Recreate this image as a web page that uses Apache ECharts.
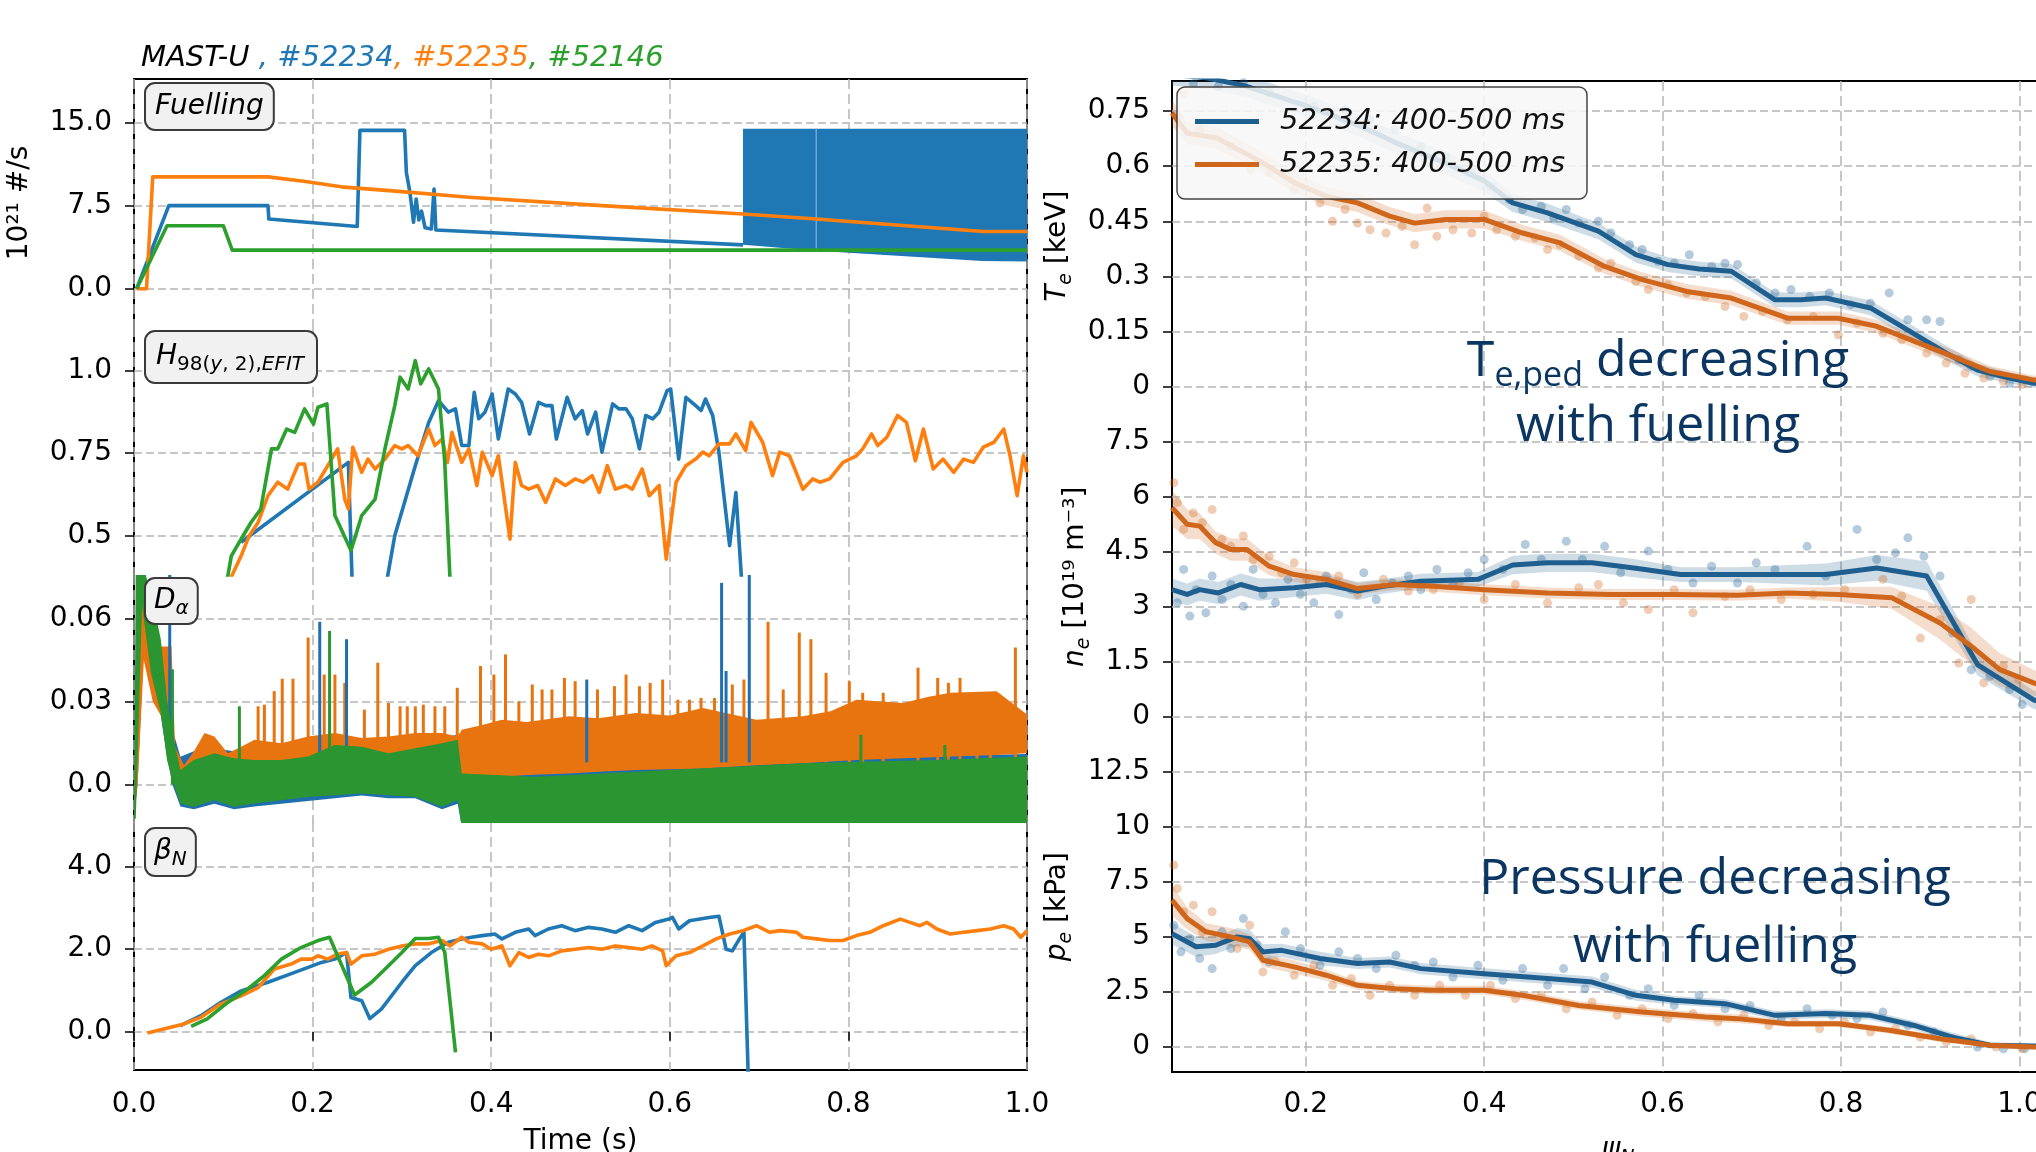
<!DOCTYPE html>
<html>
<head>
    <meta charset="utf-8">
    <title>MAST-U fuelling scan</title>
    <style type="text/css">
        html, body {
            margin: 0;
            background: #fff;
        }
        #chart {
            width: 2036px;
            height: 1152px;
        }
    </style>
</head>
<body>
    <div id="chart"></div>
    <script src="https://cdn.jsdelivr.net/npm/echarts@6.0.0/dist/echarts.min.js"></script>
    <script>
        // ---- tick labels ----
        var timeTicks = [0, 0.2, 0.4, 0.6, 0.8, 1.0];
        var timeTickLabels = ['0.0', '0.2', '0.4', '0.6', '0.8', '1.0'];
        var fuelTicks = [0, 7.5, 15];
        var fuelTickLabels = ['0.0', '7.5', '15.0'];
        var h98Ticks = [0.5, 0.75, 1.0];
        var h98TickLabels = ['0.5', '0.75', '1.0'];
        var daTicks = [0, 0.03, 0.06];
        var daTickLabels = ['0.0', '0.03', '0.06'];
        var betaTicks = [0, 2, 4];
        var betaTickLabels = ['0.0', '2.0', '4.0'];
        var psiTicks = [0.2, 0.4, 0.6, 0.8, 1.0];
        var psiTickLabels = ['0.2', '0.4', '0.6', '0.8', '1.0'];
        var teTicks = [0, 0.15, 0.3, 0.45, 0.6, 0.75];
        var teTickLabels = ['0', '0.15', '0.3', '0.45', '0.6', '0.75'];
        var neTicks = [0, 1.5, 3, 4.5, 6, 7.5];
        var neTickLabels = ['0', '1.5', '3', '4.5', '6', '7.5'];
        var peTicks = [0, 2.5, 5, 7.5, 10, 12.5];
        var peTickLabels = ['0', '2.5', '5', '7.5', '10', '12.5'];

        // ---- fuelling [t (s), 1e21 #/s] ----
        var fuel52234 = [[0.003, 0], [0.039, 7.5], [0.150, 7.5], [0.151, 6.29], [0.250, 5.62], [0.253, 14.3], [0.303, 14.3],
            [0.305, 10.5], [0.309, 8.7], [0.313, 6.0], [0.316, 8.1], [0.319, 6.2], [0.322, 7.0], [0.326, 5.5], [0.333, 5.4],
            [0.336, 9.0], [0.338, 5.3], [0.682, 3.96]];
        // dense valve oscillation after 0.68 s: [t, low, high]
        var fuelBand52234 = [[0.682, 3.96, 14.45], [0.764, 3.42, 14.45], [0.950, 2.50, 14.45], [1.0, 2.45, 14.45]];
        var fuelEdge52234 = [[0.764, 3.42], [0.764, 14.45]];
        var fuel52235 = [[0.003, 0], [0.014, 0], [0.021, 10.1], [0.150, 10.1], [0.190, 9.7], [0.232, 9.2], [0.300, 8.77],
            [0.375, 8.26], [0.524, 7.5], [0.682, 6.74], [0.764, 6.29], [0.951, 5.17], [1.0, 5.17]];
        var fuel52146 = [[0.003, 0], [0.037, 5.69], [0.100, 5.69], [0.110, 3.48], [1.0, 3.48]];

        // ---- H98(y,2) ----
        var h98_52234 = [[0.120, 0.480], [0.240, 0.722], [0.245, 0.30], [0.279, 0.30], [0.292, 0.500], [0.303, 0.601],
            [0.315, 0.712], [0.330, 0.843], [0.341, 0.909], [0.352, 0.874], [0.360, 0.884], [0.367, 0.773], [0.375, 0.773],
            [0.381, 0.934], [0.386, 0.854], [0.393, 0.874], [0.401, 0.929], [0.408, 0.793], [0.419, 0.944], [0.427, 0.929],
            [0.434, 0.904], [0.443, 0.808], [0.453, 0.904], [0.461, 0.894], [0.468, 0.894], [0.473, 0.793], [0.485, 0.919],
            [0.494, 0.854], [0.502, 0.879], [0.508, 0.808], [0.517, 0.874], [0.524, 0.753], [0.536, 0.899], [0.543, 0.884],
            [0.551, 0.884], [0.558, 0.854], [0.566, 0.763], [0.573, 0.864], [0.581, 0.854], [0.588, 0.874], [0.597, 0.939],
            [0.601, 0.944], [0.610, 0.732], [0.618, 0.919], [0.629, 0.894], [0.635, 0.879], [0.640, 0.914], [0.648, 0.864],
            [0.655, 0.753], [0.667, 0.470], [0.674, 0.631], [0.682, 0.30]];
        var h98_52235 = [[0.096, 0.30], [0.120, 0.439], [0.129, 0.500], [0.139, 0.540], [0.150, 0.621], [0.161, 0.662],
            [0.172, 0.641], [0.184, 0.717], [0.191, 0.717], [0.196, 0.641], [0.206, 0.662], [0.217, 0.712], [0.228, 0.763],
            [0.236, 0.611], [0.240, 0.581], [0.245, 0.768], [0.255, 0.692], [0.262, 0.732], [0.270, 0.702], [0.281, 0.732],
            [0.292, 0.773], [0.300, 0.763], [0.307, 0.773], [0.318, 0.742], [0.330, 0.823], [0.337, 0.773], [0.345, 0.793],
            [0.351, 0.722], [0.356, 0.813], [0.367, 0.722], [0.375, 0.763], [0.384, 0.652], [0.390, 0.753], [0.401, 0.682],
            [0.408, 0.742], [0.421, 0.490], [0.427, 0.722], [0.434, 0.652], [0.442, 0.641], [0.452, 0.652], [0.461, 0.601],
            [0.472, 0.672], [0.483, 0.652], [0.494, 0.672], [0.503, 0.662], [0.513, 0.682], [0.521, 0.631], [0.530, 0.712],
            [0.539, 0.641], [0.551, 0.652], [0.558, 0.641], [0.569, 0.702], [0.577, 0.621], [0.588, 0.652], [0.596, 0.429],
            [0.607, 0.662], [0.618, 0.712], [0.629, 0.732], [0.637, 0.753], [0.644, 0.742], [0.655, 0.778], [0.667, 0.778],
            [0.674, 0.808], [0.685, 0.758], [0.691, 0.843], [0.704, 0.783], [0.715, 0.682], [0.723, 0.753], [0.734, 0.742],
            [0.749, 0.641], [0.760, 0.672], [0.768, 0.662], [0.779, 0.672], [0.794, 0.722], [0.809, 0.742], [0.816, 0.763],
            [0.826, 0.808], [0.833, 0.773], [0.843, 0.798], [0.855, 0.864], [0.865, 0.843], [0.875, 0.727], [0.884, 0.823],
            [0.895, 0.702], [0.906, 0.732], [0.918, 0.692], [0.929, 0.732], [0.940, 0.722], [0.951, 0.768], [0.963, 0.783],
            [0.974, 0.823], [0.981, 0.742], [0.989, 0.621], [0.996, 0.742], [1.0, 0.692]];
        var h98_52146 = [[0.100, 0.30], [0.109, 0.439], [0.120, 0.490], [0.131, 0.540], [0.142, 0.581], [0.148, 0.672],
            [0.154, 0.763], [0.161, 0.763], [0.171, 0.823], [0.180, 0.813], [0.191, 0.884], [0.201, 0.838], [0.206, 0.889],
            [0.216, 0.899], [0.225, 0.561], [0.243, 0.455], [0.255, 0.561], [0.270, 0.611], [0.281, 0.763], [0.292, 0.894],
            [0.298, 0.980], [0.307, 0.944], [0.315, 1.030], [0.321, 0.960], [0.330, 1.005], [0.341, 0.944], [0.348, 0.722],
            [0.355, 0.30]];

        // ---- D-alpha envelopes [t, low, high] and spikes [t, peak] ----
        var da52234Band = [[0.0, -0.0124, -0.0124], [0.004, 0.0, 0.08], [0.011, 0.05, 0.08], [0.021, 0.035, 0.06],
            [0.030, 0.025, 0.050], [0.037, 0.010, 0.035], [0.043, 0.0, 0.020], [0.052, -0.008, 0.010], [0.067, -0.009, 0.012],
            [0.090, -0.007, 0.013], [0.112, -0.009, 0.012], [0.135, -0.008, 0.012], [0.165, -0.007, 0.013], [0.195, -0.006, 0.015],
            [0.225, -0.005, 0.016], [0.255, -0.004, 0.016], [0.285, -0.005, 0.015], [0.315, -0.005, 0.016], [0.345, -0.009, 0.017],
            [0.3625, -0.007, 0.018], [0.367, -0.0152, 0.004], [0.412, -0.0155, 0.005], [0.487, -0.0155, 0.006],
            [0.562, -0.0155, 0.007], [0.637, -0.0155, 0.008], [0.749, -0.0155, 0.009], [0.861, -0.0155, 0.010], [1.0, -0.0155, 0.011]];
        var da52235Band = [[0.0, -0.0124, -0.0124], [0.004, 0.0, 0.08], [0.011, 0.045, 0.072], [0.021, 0.030, 0.0489],
            [0.030, 0.025, 0.050], [0.037, 0.020, 0.050], [0.042, 0.010, 0.050], [0.046, 0.002, 0.0137], [0.056, 0.0, 0.0070],
            [0.067, 0.0, 0.0119], [0.079, 0.0, 0.0186], [0.090, 0.0, 0.0174], [0.105, 0.0, 0.0113], [0.120, 0.0, 0.0137],
            [0.135, 0.0, 0.0162], [0.165, 0.0, 0.0149], [0.195, 0.0, 0.0174], [0.225, 0.0, 0.0186], [0.255, 0.0, 0.0168],
            [0.285, 0.0, 0.0174], [0.315, 0.0, 0.0186], [0.345, 0.0, 0.0186], [0.3625, 0.0, 0.0174], [0.367, 0.0016, 0.0198],
            [0.390, 0.0022, 0.0215], [0.412, 0.0028, 0.0234], [0.440, 0.0034, 0.0226], [0.487, 0.0040, 0.0247],
            [0.520, 0.0046, 0.0240], [0.562, 0.0052, 0.0259], [0.600, 0.0055, 0.0250], [0.637, 0.0058, 0.0277],
            [0.697, 0.0070, 0.0234], [0.749, 0.0077, 0.0247], [0.780, 0.0083, 0.0265], [0.809, 0.0089, 0.0307],
            [0.861, 0.0095, 0.0295], [0.890, 0.0098, 0.0318], [0.914, 0.0101, 0.0332], [0.966, 0.0107, 0.0338],
            [1.0, 0.0113, 0.0253]];
        var da52146Band = [[0.0, -0.0124, -0.0124], [0.002, -0.0124, 0.08], [0.009, 0.0647, 0.08], [0.019, 0.0404, 0.0696],
            [0.030, 0.0259, 0.0526], [0.037, 0.0089, 0.0307], [0.043, 0.0016, 0.0186], [0.052, -0.0069, 0.0052],
            [0.067, -0.0081, 0.0089], [0.090, -0.0057, 0.0113], [0.112, -0.0081, 0.0095], [0.135, -0.0069, 0.0089],
            [0.165, -0.0057, 0.0089], [0.195, -0.0045, 0.0101], [0.225, -0.0039, 0.0143], [0.255, -0.0033, 0.0137],
            [0.285, -0.0039, 0.0113], [0.315, -0.0045, 0.0131], [0.345, -0.0081, 0.0149], [0.3625, -0.0057, 0.0162],
            [0.367, -0.0152, 0.0040], [0.449, -0.0152, 0.0028], [0.524, -0.0152, 0.0040], [0.599, -0.0152, 0.0052],
            [0.674, -0.0152, 0.0064], [0.749, -0.0152, 0.0077], [0.824, -0.0152, 0.0083], [0.899, -0.0152, 0.0089],
            [1.0, -0.0152, 0.0101]];
        var da52234Spikes = [[0.040, 0.08], [0.208, 0.0589], [0.238, 0.0526], [0.507, 0.0380], [0.658, 0.073],
            [0.663, 0.0411], [0.689, 0.08]];
        var da52235Spikes = [[0.139, 0.0283], [0.146, 0.0289], [0.157, 0.0338], [0.166, 0.0383], [0.178, 0.0383],
            [0.195, 0.0532], [0.213, 0.0398], [0.225, 0.0398], [0.236, 0.0368], [0.258, 0.0271], [0.273, 0.0441],
            [0.285, 0.0295], [0.298, 0.0283], [0.306, 0.0283], [0.315, 0.0283], [0.324, 0.0289], [0.337, 0.0283],
            [0.348, 0.0283], [0.362, 0.0350], [0.388, 0.0429], [0.403, 0.0398], [0.416, 0.0471], [0.431, 0.0301],
            [0.446, 0.0362], [0.457, 0.0344], [0.468, 0.0344], [0.482, 0.0386], [0.494, 0.0374], [0.519, 0.0344],
            [0.538, 0.0356], [0.551, 0.0398], [0.566, 0.0356], [0.578, 0.0368], [0.592, 0.0380], [0.609, 0.0307],
            [0.622, 0.0307], [0.635, 0.0313], [0.650, 0.0313], [0.670, 0.0362], [0.683, 0.0380], [0.710, 0.0589],
            [0.727, 0.0344], [0.745, 0.0550], [0.758, 0.0526], [0.775, 0.0404], [0.801, 0.0374], [0.816, 0.0332],
            [0.839, 0.0332], [0.878, 0.0423], [0.900, 0.0386], [0.912, 0.0368], [0.925, 0.0386], [0.944, 0.0332],
            [0.959, 0.0320], [0.987, 0.0496]];
        var da52146Spikes = [[0.043, 0.0417], [0.118, 0.0283], [0.219, 0.0556], [0.814, 0.0180], [0.908, 0.0143]];
        var daSpikeBase = 0.008;

        // ---- beta_N ----
        var beta52234 = [[0.052, 0.15], [0.075, 0.39], [0.097, 0.71], [0.120, 0.99], [0.150, 1.20], [0.180, 1.44],
            [0.210, 1.68], [0.225, 1.76], [0.238, 1.92], [0.243, 0.83], [0.255, 0.75], [0.264, 0.32], [0.277, 0.55],
            [0.300, 1.20], [0.315, 1.60], [0.333, 1.92], [0.352, 2.17], [0.367, 2.25], [0.378, 2.29], [0.390, 2.33],
            [0.404, 2.37], [0.412, 2.25], [0.427, 2.41], [0.442, 2.49], [0.449, 2.33], [0.464, 2.49], [0.479, 2.57],
            [0.494, 2.45], [0.509, 2.53], [0.524, 2.49], [0.539, 2.41], [0.554, 2.57], [0.569, 2.45], [0.584, 2.65],
            [0.599, 2.73], [0.603, 2.77], [0.610, 2.49], [0.622, 2.69], [0.644, 2.77], [0.655, 2.80], [0.663, 2.00],
            [0.670, 1.96], [0.678, 2.25], [0.683, 2.41], [0.688, -1.2]];
        var beta52235 = [[0.015, -0.03], [0.056, 0.19], [0.075, 0.35], [0.097, 0.67], [0.120, 0.87], [0.139, 1.07],
            [0.157, 1.52], [0.176, 1.64], [0.187, 1.76], [0.199, 1.76], [0.206, 1.84], [0.217, 1.76], [0.228, 1.88],
            [0.238, 1.92], [0.243, 1.64], [0.255, 1.84], [0.270, 1.88], [0.285, 2.00], [0.300, 2.08], [0.315, 2.13],
            [0.330, 2.13], [0.345, 2.21], [0.354, 2.08], [0.367, 2.29], [0.375, 2.17], [0.390, 2.13], [0.400, 2.00],
            [0.412, 2.08], [0.421, 1.60], [0.431, 1.92], [0.442, 1.80], [0.453, 1.88], [0.464, 1.84], [0.479, 1.96],
            [0.494, 2.00], [0.509, 2.04], [0.524, 2.00], [0.539, 2.08], [0.554, 2.04], [0.569, 2.00], [0.580, 2.08],
            [0.592, 1.96], [0.596, 1.60], [0.607, 1.84], [0.622, 1.92], [0.637, 2.08], [0.652, 2.25], [0.667, 2.37],
            [0.682, 2.45], [0.697, 2.57], [0.712, 2.41], [0.723, 2.45], [0.742, 2.41], [0.749, 2.29], [0.764, 2.25],
            [0.779, 2.21], [0.794, 2.21], [0.809, 2.33], [0.824, 2.41], [0.839, 2.57], [0.858, 2.73], [0.869, 2.65],
            [0.880, 2.57], [0.888, 2.65], [0.899, 2.49], [0.914, 2.37], [0.929, 2.41], [0.944, 2.45], [0.959, 2.49],
            [0.974, 2.57], [0.985, 2.49], [0.993, 2.29], [1.0, 2.45]];
        var beta52146 = [[0.064, 0.13], [0.082, 0.31], [0.105, 0.71], [0.127, 1.03], [0.146, 1.36], [0.165, 1.76],
            [0.187, 2.04], [0.206, 2.21], [0.219, 2.29], [0.247, 0.89], [0.266, 1.20], [0.285, 1.60], [0.300, 1.92],
            [0.315, 2.26], [0.330, 2.26], [0.341, 2.29], [0.348, 1.92], [0.360, -0.50]];

        // ---- profiles vs psi_N, 400-500 ms ----
        var teFit52234 = [[0.05, 0.85], [0.09, 0.84], [0.13, 0.82], [0.20, 0.765], [0.26, 0.71], [0.30, 0.665], [0.36, 0.605],
            [0.40, 0.56], [0.432, 0.50], [0.471, 0.473], [0.528, 0.423], [0.570, 0.359], [0.606, 0.332], [0.641, 0.320],
            [0.677, 0.314], [0.726, 0.236], [0.755, 0.236], [0.783, 0.241], [0.833, 0.214], [0.868, 0.164], [0.918, 0.091],
            [0.953, 0.045], [0.989, 0.023], [1.016, 0.009], [1.05, 0.004]];
        var teErr52234 = [0.03, 0.03, 0.03, 0.03, 0.03, 0.03, 0.03, 0.03, 0.025, 0.025, 0.022, 0.022, 0.02, 0.02, 0.02,
            0.02, 0.02, 0.02, 0.02, 0.02, 0.02, 0.018, 0.015, 0.012, 0.01];
        var teFit52235 = [[0.05, 0.745], [0.067, 0.69], [0.10, 0.677], [0.152, 0.609], [0.187, 0.555], [0.223, 0.518],
            [0.258, 0.50], [0.294, 0.464], [0.322, 0.445], [0.357, 0.455], [0.40, 0.455], [0.443, 0.418], [0.485, 0.391],
            [0.535, 0.327], [0.577, 0.291], [0.627, 0.259], [0.677, 0.241], [0.74, 0.186], [0.797, 0.186], [0.84, 0.164],
            [0.925, 0.082], [0.967, 0.041], [1.016, 0.018], [1.05, 0.012]];
        var teErr52235 = [0.035, 0.03, 0.03, 0.028, 0.028, 0.025, 0.025, 0.025, 0.025, 0.025, 0.025, 0.022, 0.022, 0.02,
            0.02, 0.02, 0.02, 0.018, 0.018, 0.018, 0.018, 0.015, 0.012, 0.01];
        var tePts52234 = [[0.074, 0.825], [0.102, 0.818], [0.130, 0.827], [0.159, 0.80], [0.209, 0.764], [0.244, 0.755],
            [0.272, 0.727], [0.30, 0.70], [0.329, 0.655], [0.357, 0.627], [0.386, 0.582], [0.407, 0.545], [0.428, 0.509],
            [0.443, 0.482], [0.464, 0.491], [0.478, 0.459], [0.492, 0.482], [0.506, 0.445], [0.528, 0.450], [0.542, 0.418],
            [0.563, 0.386], [0.577, 0.373], [0.595, 0.341], [0.613, 0.336], [0.630, 0.359], [0.655, 0.327], [0.670, 0.336],
            [0.684, 0.332], [0.705, 0.282], [0.726, 0.255], [0.744, 0.264], [0.765, 0.245], [0.787, 0.255], [0.811, 0.223],
            [0.833, 0.227], [0.854, 0.255], [0.875, 0.182], [0.896, 0.182], [0.911, 0.177], [0.932, 0.073], [0.946, 0.055],
            [0.967, 0.027], [0.989, 0.009], [1.006, 0.018]];
        var tePts52235 = [[0.056, 0.736], [0.063, 0.795], [0.081, 0.70], [0.116, 0.655], [0.138, 0.591], [0.159, 0.582],
            [0.187, 0.536], [0.216, 0.50], [0.230, 0.45], [0.244, 0.482], [0.258, 0.445], [0.272, 0.427], [0.290, 0.418],
            [0.308, 0.436], [0.322, 0.386], [0.336, 0.486], [0.347, 0.409], [0.365, 0.427], [0.386, 0.418], [0.40, 0.464],
            [0.414, 0.427], [0.435, 0.409], [0.457, 0.405], [0.471, 0.373], [0.485, 0.386], [0.506, 0.355], [0.528, 0.323],
            [0.542, 0.336], [0.570, 0.286], [0.584, 0.264], [0.606, 0.277], [0.627, 0.255], [0.648, 0.245], [0.670, 0.218],
            [0.691, 0.191], [0.712, 0.205], [0.740, 0.182], [0.769, 0.191], [0.797, 0.141], [0.818, 0.173], [0.847, 0.145],
            [0.868, 0.127], [0.896, 0.091], [0.918, 0.064], [0.939, 0.036], [0.960, 0.023], [0.982, 0.014], [1.003, 0.005]];

        var neFit52234 = [[0.05, 3.47], [0.067, 3.34], [0.081, 3.47], [0.102, 3.38], [0.127, 3.61], [0.148, 3.47],
            [0.187, 3.52], [0.223, 3.61], [0.258, 3.43], [0.287, 3.56], [0.329, 3.70], [0.393, 3.75], [0.432, 4.14],
            [0.471, 4.2], [0.521, 4.2], [0.57, 4.05], [0.62, 3.88], [0.684, 3.88], [0.783, 3.88], [0.84, 4.06], [0.896, 3.84],
            [0.953, 1.43], [1.016, 0.47], [1.05, 0.2]];
        var neErr52234 = [0.3, 0.3, 0.3, 0.3, 0.3, 0.3, 0.25, 0.25, 0.25, 0.2, 0.2, 0.2, 0.25, 0.25, 0.25, 0.25, 0.2, 0.2,
            0.3, 0.35, 0.4, 0.3, 0.25, 0.2];
        var neFit52235 = [[0.05, 5.7], [0.067, 5.25], [0.081, 5.2], [0.099, 4.75], [0.116, 4.56], [0.134, 4.56],
            [0.159, 4.11], [0.187, 3.88], [0.223, 3.75], [0.258, 3.5], [0.30, 3.61], [0.343, 3.56], [0.40, 3.47],
            [0.471, 3.38], [0.542, 3.34], [0.613, 3.34], [0.684, 3.32], [0.74, 3.38], [0.797, 3.34], [0.857, 3.25],
            [0.911, 2.56], [0.946, 1.93], [0.978, 1.29], [1.016, 0.93], [1.05, 0.7]];
        var neErr52235 = [0.5, 0.4, 0.35, 0.3, 0.3, 0.3, 0.25, 0.2, 0.2, 0.15, 0.15, 0.15, 0.15, 0.15, 0.15, 0.15, 0.15,
            0.15, 0.2, 0.3, 0.45, 0.5, 0.45, 0.35, 0.3];
        var nePts52234 = [[0.056, 3.11], [0.063, 4.02], [0.070, 2.75], [0.077, 3.47], [0.088, 2.84], [0.095, 3.84],
            [0.106, 3.20], [0.116, 3.61], [0.130, 3.02], [0.141, 4.02], [0.152, 3.34], [0.166, 3.11], [0.180, 3.75],
            [0.194, 3.34], [0.209, 3.11], [0.223, 3.84], [0.237, 2.79], [0.251, 3.47], [0.265, 3.93], [0.279, 3.20],
            [0.297, 3.65], [0.315, 3.84], [0.329, 3.47], [0.347, 4.02], [0.365, 3.61], [0.382, 3.93], [0.40, 4.29],
            [0.421, 4.02], [0.446, 4.70], [0.464, 4.29], [0.492, 4.79], [0.510, 4.29], [0.535, 4.65], [0.553, 3.93],
            [0.584, 4.52], [0.606, 4.02], [0.634, 3.65], [0.655, 4.11], [0.684, 3.65], [0.705, 4.20], [0.726, 4.02],
            [0.762, 4.65], [0.783, 3.84], [0.818, 5.11], [0.840, 4.29], [0.861, 4.47], [0.875, 4.88], [0.893, 4.38],
            [0.911, 3.84], [0.925, 2.29], [0.946, 1.29], [0.967, 1.11], [0.989, 0.75], [1.003, 0.34]];
        var nePts52235 = [[0.052, 6.38], [0.056, 5.84], [0.063, 5.11], [0.074, 5.56], [0.084, 5.29], [0.095, 5.65],
            [0.106, 4.84], [0.116, 4.65], [0.130, 4.93], [0.141, 4.29], [0.159, 4.38], [0.173, 3.93], [0.187, 4.20],
            [0.201, 3.75], [0.216, 3.65], [0.237, 3.84], [0.258, 3.34], [0.287, 3.75], [0.315, 3.43], [0.343, 3.47],
            [0.372, 3.65], [0.40, 3.20], [0.435, 3.61], [0.471, 3.11], [0.506, 3.52], [0.528, 3.61], [0.556, 3.11],
            [0.584, 2.93], [0.613, 3.47], [0.634, 2.84], [0.670, 3.29], [0.698, 3.47], [0.733, 3.20], [0.769, 3.34],
            [0.804, 3.47], [0.847, 3.75], [0.868, 3.29], [0.889, 2.15], [0.911, 2.65], [0.932, 1.47], [0.946, 3.20],
            [0.960, 0.93], [0.982, 1.38], [0.999, 1.02]];

        var peFit52234 = [[0.05, 5.15], [0.077, 4.55], [0.099, 4.62], [0.123, 5.0], [0.137, 4.92], [0.152, 4.32],
            [0.173, 4.39], [0.216, 4.02], [0.258, 3.79], [0.294, 3.86], [0.329, 3.56], [0.40, 3.33], [0.471, 3.11],
            [0.521, 2.95], [0.57, 2.35], [0.613, 2.12], [0.67, 1.97], [0.726, 1.44], [0.783, 1.52], [0.833, 1.44],
            [0.882, 0.98], [0.925, 0.45], [0.967, 0.08], [1.016, 0.05], [1.05, 0.04]];
        var peErr52234 = [0.5, 0.45, 0.4, 0.4, 0.4, 0.35, 0.3, 0.3, 0.25, 0.25, 0.25, 0.25, 0.25, 0.25, 0.25, 0.2, 0.2,
            0.2, 0.2, 0.2, 0.2, 0.2, 0.15, 0.1, 0.1];
        var peFit52235 = [[0.05, 6.67], [0.067, 5.83], [0.088, 5.23], [0.116, 5.0], [0.137, 4.77], [0.152, 3.94],
            [0.187, 3.64], [0.223, 3.26], [0.258, 2.80], [0.30, 2.65], [0.343, 2.58], [0.40, 2.58], [0.443, 2.35],
            [0.506, 1.89], [0.577, 1.59], [0.648, 1.36], [0.684, 1.29], [0.74, 1.06], [0.797, 1.06], [0.854, 0.76],
            [0.911, 0.38], [0.967, 0.08], [1.016, 0.0], [1.05, 0.0]];
        var peErr52235 = [0.7, 0.5, 0.4, 0.4, 0.35, 0.3, 0.3, 0.25, 0.2, 0.2, 0.2, 0.2, 0.2, 0.2, 0.2, 0.2, 0.2, 0.15,
            0.15, 0.15, 0.15, 0.1, 0.1, 0.1];
        var pePts52234 = [[0.052, 5.53], [0.060, 4.32], [0.070, 4.92], [0.081, 4.02], [0.095, 3.56], [0.106, 5.23],
            [0.116, 4.47], [0.130, 5.83], [0.145, 4.62], [0.159, 3.86], [0.177, 5.23], [0.194, 4.47], [0.216, 3.71],
            [0.237, 4.32], [0.258, 4.02], [0.279, 3.56], [0.301, 4.17], [0.322, 3.71], [0.343, 3.86], [0.365, 3.18],
            [0.393, 3.71], [0.421, 3.03], [0.443, 3.56], [0.471, 2.80], [0.489, 3.56], [0.513, 2.65], [0.535, 3.18],
            [0.563, 2.35], [0.584, 2.65], [0.613, 1.89], [0.641, 2.35], [0.670, 1.74], [0.698, 1.89], [0.733, 1.29],
            [0.762, 1.74], [0.790, 1.44], [0.818, 1.29], [0.847, 1.59], [0.875, 0.98], [0.904, 0.68], [0.925, 0.38],
            [0.953, 0.0], [0.982, -0.08], [1.006, -0.08]];
        var pePts52235 = [[0.052, 8.26], [0.056, 7.20], [0.063, 6.14], [0.074, 6.44], [0.084, 5.23], [0.095, 6.14],
            [0.109, 4.92], [0.123, 4.47], [0.137, 5.53], [0.152, 3.41], [0.166, 3.86], [0.187, 3.26], [0.209, 3.71],
            [0.230, 2.80], [0.251, 3.11], [0.272, 2.35], [0.294, 2.80], [0.322, 2.35], [0.350, 2.80], [0.379, 2.35],
            [0.407, 2.80], [0.435, 2.20], [0.464, 2.35], [0.492, 1.74], [0.521, 2.05], [0.549, 1.44], [0.577, 1.74],
            [0.606, 1.29], [0.634, 1.52], [0.662, 1.14], [0.691, 1.44], [0.719, 0.98], [0.748, 1.14], [0.776, 0.83],
            [0.804, 1.14], [0.833, 0.68], [0.861, 0.83], [0.889, 0.45], [0.918, 0.23], [0.946, 0.38], [0.974, 0.0],
            [1.003, -0.08]];

        var shot52234 = '52234: 400-500 ms';
        var shot52235 = '52235: 400-500 ms';

        // ---- styling ----
        var FONT = 'DejaVu Sans';
        var BLUE = '#1f77b4', ORANGE = '#ff7f0e', GREEN = '#2ca02c';
        var DA_BLUE = '#1f6fae', DA_ORANGE = '#e8740f', DA_GREEN = '#2a9531';
        var P_BLUE = '#1f5f8f', P_ORANGE = '#cf661b';
        var NAVY = '#0b3661';
        var GRIDLINE = {color: '#b5b5b5', width: 1.5, type: [8, 4]};
        var VGRIDLINE = {color: '#b5b5b5', width: 1.5, type: [10, 5]};
        var LW = 3.6;

        var leftTops = [79, 327, 575, 822], leftH = 248;
        var rightTops = [81, 411.5, 741.5], rightH = 330.5;

        function tickFormatter(ticks, labels) {
            return function (v) {
                for (var i = 0; i < ticks.length; i++) {
                    if (Math.abs(ticks[i] - v) < 1e-9) {
                        return labels[i];
                    }
                }
                return '';
            };
        }

        function withErr(fit, err) {
            var rows = [];
            for (var i = 0; i < fit.length && i < err.length; i++) {
                rows.push([fit[i][0], fit[i][1] - err[i], fit[i][1] + err[i]]);
            }
            return rows;
        }

        function clipRect(params) {
            var cs = params.coordSys;
            return {type: 'rect', shape: {x: cs.x, y: cs.y, width: cs.width, height: cs.height}};
        }

        function line(idx, data, color, width, z, name) {
            return {
                type: 'line', name: name, xAxisIndex: idx, yAxisIndex: idx, data: data,
                symbol: 'none', showSymbol: false, clip: true, silent: true, z: z,
                lineStyle: {color: color, width: width, join: 'round'}, itemStyle: {color: color}
            };
        }

        function band(idx, rows, color, opacity, z) {
            return {
                type: 'custom', xAxisIndex: idx, yAxisIndex: idx, data: rows, silent: true, z: z,
                encode: {x: 0, y: [1, 2]},
                renderItem: function (params, api) {
                    if (params.dataIndex !== 0) {
                        return null;
                    }
                    var pts = [];
                    rows.forEach(function (r) { pts.push(api.coord([r[0], r[2]])); });
                    for (var i = rows.length - 1; i >= 0; i--) {
                        pts.push(api.coord([rows[i][0], rows[i][1]]));
                    }
                    return {
                        type: 'polygon', shape: {points: pts},
                        style: {fill: color, opacity: opacity},
                        clipPath: clipRect(params)
                    };
                }
            };
        }

        function spikes(idx, pts, base, color, width, z) {
            return {
                type: 'custom', xAxisIndex: idx, yAxisIndex: idx, data: pts, silent: true, z: z,
                encode: {x: 0, y: 1},
                renderItem: function (params, api) {
                    var p0 = api.coord([api.value(0), base]);
                    var p1 = api.coord([api.value(0), api.value(1)]);
                    return {
                        type: 'line', shape: {x1: p0[0], y1: p0[1], x2: p1[0], y2: p1[1]},
                        style: {stroke: color, lineWidth: width},
                        clipPath: clipRect(params)
                    };
                }
            };
        }

        function dots(idx, pts, color, z) {
            return {
                type: 'scatter', xAxisIndex: idx, yAxisIndex: idx, data: pts, symbolSize: 9, clip: true,
                silent: true, z: z, itemStyle: {color: color, opacity: 0.33}
            };
        }

        function yAxisFor(idx, min, max, ticks, labels, extra) {
            var ax = {
                type: 'value', gridIndex: idx, min: min, max: max,
                axisLine: {show: false},
                axisTick: {show: true, customValues: ticks, length: 9, lineStyle: {color: '#000', width: 1.5}},
                axisLabel: {customValues: ticks, formatter: tickFormatter(ticks, labels), color: '#000',
                    fontSize: 28, fontFamily: FONT, margin: 22},
                splitLine: {show: true, lineStyle: GRIDLINE},
                nameMoveOverlap: false
            };
            return Object.assign(ax, extra || {});
        }

        function xAxisFor(idx, min, max, ticks, labels, bottom, extra) {
            var ax = {
                type: 'value', gridIndex: idx, min: min, max: max,
                axisLine: {show: false},
                axisTick: {show: bottom, customValues: ticks, length: 9, lineStyle: {color: '#000', width: 1.5}},
                axisLabel: {show: bottom, customValues: ticks, formatter: tickFormatter(ticks, labels), color: '#000',
                    fontSize: 28, fontFamily: FONT, margin: 21},
                splitLine: {show: true, lineStyle: VGRIDLINE},
                nameMoveOverlap: false
            };
            return Object.assign(ax, extra || {});
        }

        var nameRich = {
            i: {fontStyle: 'italic', fontSize: 28, fontFamily: FONT, lineHeight: 36, color: '#000'},
            s: {fontStyle: 'italic', fontSize: 19, fontFamily: FONT, lineHeight: 22, verticalAlign: 'bottom', color: '#000'},
            r: {fontSize: 28, fontFamily: FONT, lineHeight: 36, color: '#000'}
        };

        var grids = [];
        leftTops.forEach(function (t) {
            grids.push({left: 134, top: t, width: 893, height: leftH, outerBoundsMode: 'none'});
        });
        rightTops.forEach(function (t) {
            grids.push({left: 1172, top: t, width: 892, height: rightH, outerBoundsMode: 'none'});
        });
        grids.push({left: 134, top: 79, width: 893, height: 991, show: true, borderColor: '#000', borderWidth: 2,
            backgroundColor: 'transparent', outerBoundsMode: 'none'});
        grids.push({left: 1172, top: 81, width: 892, height: 991, show: true, borderColor: '#000', borderWidth: 2,
            backgroundColor: 'transparent', outerBoundsMode: 'none'});

        var xAxes = [
            xAxisFor(0, 0, 1, timeTicks, timeTickLabels, false),
            xAxisFor(1, 0, 1, timeTicks, timeTickLabels, false),
            xAxisFor(2, 0, 1, timeTicks, timeTickLabels, false),
            xAxisFor(3, 0, 1, timeTicks, timeTickLabels, true, {
                name: 'Time (s)', nameLocation: 'middle', nameGap: 58,
                nameTextStyle: {fontSize: 28, fontFamily: FONT, color: '#000'}
            }),
            xAxisFor(4, 0.05, 1.05, psiTicks, psiTickLabels, false),
            xAxisFor(5, 0.05, 1.05, psiTicks, psiTickLabels, false),
            xAxisFor(6, 0.05, 1.05, psiTicks, psiTickLabels, true, {
                name: '{i|ψ}{s|N}', nameLocation: 'middle', nameGap: 60,
                nameTextStyle: {fontSize: 28, fontFamily: FONT, color: '#000', rich: nameRich}
            }),
            {type: 'value', gridIndex: 7, show: false, min: 0, max: 1},
            {type: 'value', gridIndex: 8, show: false, min: 0, max: 1}
        ];
        xAxes[6].axisTick.show = false;
        xAxes[6].axisLabel.margin = 19;

        var yAxes = [
            yAxisFor(0, -3.46, 18.94, fuelTicks, fuelTickLabels, {
                name: '10²¹ #/s', nameLocation: 'middle', nameGap: 100,
                nameTextStyle: {fontSize: 28, fontFamily: FONT, color: '#000'}
            }),
            yAxisFor(1, 0.381, 1.132, h98Ticks, h98TickLabels),
            yAxisFor(2, -0.01395, 0.07585, daTicks, daTickLabels),
            yAxisFor(3, -0.927, 5.083, betaTicks, betaTickLabels),
            yAxisFor(4, -0.068, 0.832, teTicks, teTickLabels, {
                name: '{i|T}{s|e}{r| [keV]}', nameLocation: 'middle', nameGap: 96,
                nameTextStyle: {fontSize: 28, fontFamily: FONT, color: '#000', rich: nameRich}
            }),
            yAxisFor(5, -0.679, 8.321, neTicks, neTickLabels, {
                name: '{i|n}{s|e}{r| [10¹⁹ m⁻³]}', nameLocation: 'middle', nameGap: 78,
                nameTextStyle: {fontSize: 28, fontFamily: FONT, color: '#000', rich: nameRich}
            }),
            yAxisFor(6, -1.132, 13.868, peTicks, peTickLabels, {
                name: '{i|p}{s|e}{r| [kPa]}', nameLocation: 'middle', nameGap: 96,
                nameTextStyle: {fontSize: 28, fontFamily: FONT, color: '#000', rich: nameRich}
            }),
            {type: 'value', gridIndex: 7, show: false, min: 0, max: 1},
            {type: 'value', gridIndex: 8, show: false, min: 0, max: 1}
        ];

        var series = [
            // fuelling
            band(0, fuelBand52234, BLUE, 1, 3),
            line(0, fuelEdge52234, '#6aa6d6', 1.5, 3.5),
            line(0, fuel52234, BLUE, LW, 4),
            line(0, fuel52235, ORANGE, LW, 5),
            line(0, fuel52146, GREEN, LW, 6),
            // H98
            line(1, h98_52234, BLUE, LW, 4),
            line(1, h98_52235, ORANGE, LW, 5),
            line(1, h98_52146, GREEN, LW, 6),
            // D-alpha
            band(2, da52234Band, DA_BLUE, 1, 3),
            band(2, da52235Band, DA_ORANGE, 1, 4),
            spikes(2, da52235Spikes, daSpikeBase, DA_ORANGE, 3, 4),
            spikes(2, da52234Spikes, daSpikeBase, DA_BLUE, 3, 4.5),
            band(2, da52146Band, DA_GREEN, 1, 5),
            spikes(2, da52146Spikes, 0.0, DA_GREEN, 3, 5),
            // beta_N
            line(3, beta52234, BLUE, LW, 4),
            line(3, beta52235, ORANGE, LW, 5),
            line(3, beta52146, GREEN, LW, 6),
            // Te
            band(4, withErr(teFit52234, teErr52234), P_BLUE, 0.22, 2),
            band(4, withErr(teFit52235, teErr52235), P_ORANGE, 0.22, 2),
            dots(4, tePts52234, P_BLUE, 3),
            dots(4, tePts52235, P_ORANGE, 3),
            line(4, teFit52234, P_BLUE, 5, 4, shot52234),
            line(4, teFit52235, P_ORANGE, 5, 5, shot52235),
            // ne
            band(5, withErr(neFit52234, neErr52234), P_BLUE, 0.22, 2),
            band(5, withErr(neFit52235, neErr52235), P_ORANGE, 0.22, 2),
            dots(5, nePts52234, P_BLUE, 3),
            dots(5, nePts52235, P_ORANGE, 3),
            line(5, neFit52234, P_BLUE, 5, 4, shot52234),
            line(5, neFit52235, P_ORANGE, 5, 5, shot52235),
            // pe
            band(6, withErr(peFit52234, peErr52234), P_BLUE, 0.22, 2),
            band(6, withErr(peFit52235, peErr52235), P_ORANGE, 0.22, 2),
            dots(6, pePts52234, P_BLUE, 3),
            dots(6, pePts52235, P_ORANGE, 3),
            line(6, peFit52234, P_BLUE, 5, 4, shot52234),
            line(6, peFit52235, P_ORANGE, 5, 5, shot52235)
        ];

        function panelLabel(left, top, text, rich, pad) {
            return {
                type: 'text', left: left, top: top, z: 100,
                style: {
                    text: text, rich: rich, fill: '#000',
                    fontSize: 28, fontFamily: FONT, fontStyle: 'italic',
                    backgroundColor: '#f1f1f1', borderColor: '#3a3a3a', borderWidth: 2, borderRadius: 9,
                    padding: pad
                }
            };
        }

        var labelRich = {
            i: {fontStyle: 'italic', fontSize: 28, fontFamily: FONT, lineHeight: 36},
            n: {fontSize: 20, fontFamily: FONT, lineHeight: 22, verticalAlign: 'bottom'},
            s: {fontStyle: 'italic', fontSize: 20, fontFamily: FONT, lineHeight: 22, verticalAlign: 'bottom'}
        };

        var annotRich = {
            b: {fontSize: 50, fontFamily: 'Open Sans', fill: NAVY, lineHeight: 62},
            s: {fontSize: 34, fontFamily: 'Open Sans', fill: NAVY, lineHeight: 40, verticalAlign: 'bottom'}
        };

        var graphics = [
            {
                type: 'text', left: 141, top: 44, z: 100,
                style: {
                    text: '{k|MAST-U }{b|, #52234}{o|, #52235}{g|, #52146}',
                    rich: {
                        k: {fill: '#000', fontSize: 29, fontFamily: FONT, fontStyle: 'italic'},
                        b: {fill: BLUE, fontSize: 29, fontFamily: FONT, fontStyle: 'italic'},
                        o: {fill: ORANGE, fontSize: 29, fontFamily: FONT, fontStyle: 'italic'},
                        g: {fill: GREEN, fontSize: 29, fontFamily: FONT, fontStyle: 'italic'}
                    }
                }
            },
            panelLabel(144, 82, '{i|Fuelling}', labelRich, [5, 9, 4, 9]),
            panelLabel(144, 330, '{i|H}{n|98(}{s|y}{n|, 2),}{s|EFIT}', labelRich, [7, 12, 7, 10]),
            panelLabel(144, 577, '{i|D}{s|α}', labelRich, [4, 8, 4, 8]),
            panelLabel(144, 827, '{i|β}{s|N}', labelRich, [5, 8, 5, 8]),
            {
                type: 'text', x: 1658, y: 362, z: 100,
                style: {text: '{b|T}{s|e,ped}{b| decreasing}', rich: annotRich, align: 'center', verticalAlign: 'middle'}
            },
            {
                type: 'text', x: 1658, y: 427, z: 100,
                style: {text: '{b|with fuelling}', rich: annotRich, align: 'center', verticalAlign: 'middle'}
            },
            {
                type: 'text', x: 1715, y: 880, z: 100,
                style: {text: '{b|Pressure decreasing}', rich: annotRich, align: 'center', verticalAlign: 'middle'}
            },
            {
                type: 'text', x: 1715, y: 948, z: 100,
                style: {text: '{b|with fuelling}', rich: annotRich, align: 'center', verticalAlign: 'middle'}
            }
        ];

        var chart = echarts.init(document.getElementById('chart'), null, {renderer: 'canvas'});
        chart.setOption({
            animation: false,
            backgroundColor: '#fff',
            grid: grids,
            xAxis: xAxes,
            yAxis: yAxes,
            legend: {
                show: true, orient: 'vertical', left: 1177, top: 87, z: 50,
                selectedMode: false, icon: 'rect', itemWidth: 64, itemHeight: 5, itemGap: 12,
                padding: [19, 22, 19, 18],
                backgroundColor: 'rgba(247,247,247,0.85)', borderColor: '#444', borderWidth: 1.5, borderRadius: 8,
                textStyle: {fontSize: 29, fontFamily: FONT, fontStyle: 'italic', color: '#111',
                    padding: [0, 0, 0, 16], lineHeight: 31},
                data: [
                    {name: shot52234, itemStyle: {color: P_BLUE}},
                    {name: shot52235, itemStyle: {color: P_ORANGE}}
                ]
            },
            graphic: graphics,
            series: series
        });
    </script>
</body>
</html>
